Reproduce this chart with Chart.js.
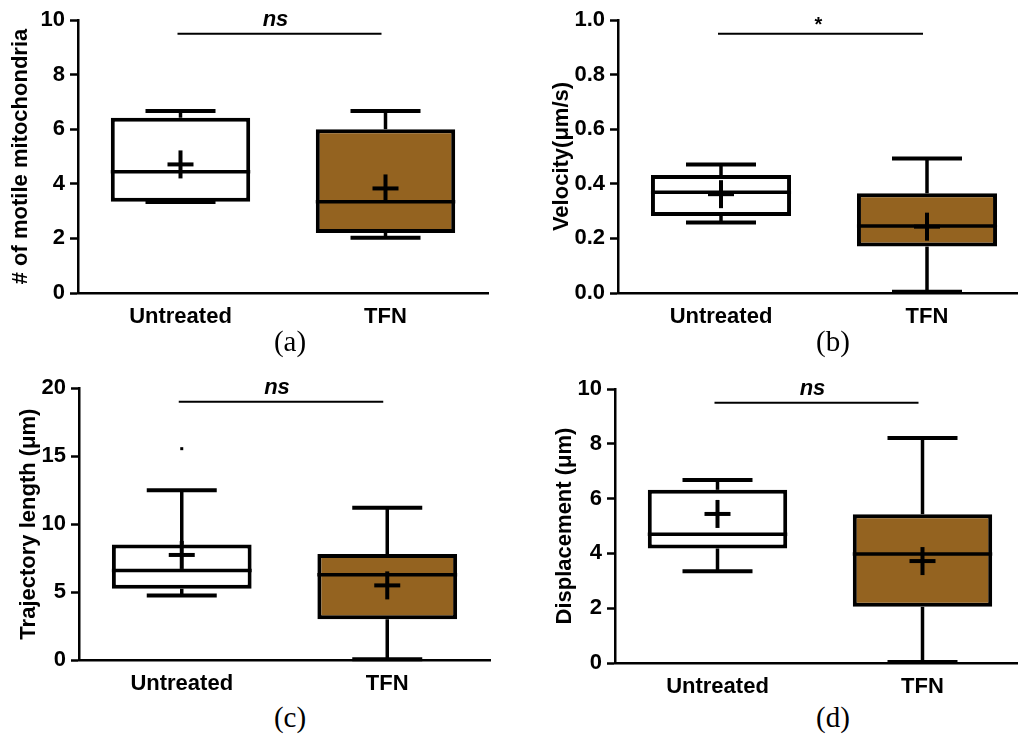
<!DOCTYPE html>
<html>
<head>
<meta charset="utf-8">
<script src="https://cdn.jsdelivr.net/npm/chart.js@4.4.1/dist/chart.umd.min.js"></script>
<style>
  html, body { margin: 0; padding: 0; background: #fff; overflow: hidden; }
  body { width: 1018px; height: 734px; position: relative; }
  canvas { position: absolute; }
  .tag { position: absolute; width: 100px; text-align: center; font: 29px "Liberation Serif", "Times New Roman", serif; line-height: 30px; color: #000; }
</style>
</head>
<body>
<canvas id="chartA" width="500" height="330" style="left:0px;top:0px"></canvas>
<canvas id="chartB" width="530" height="330" style="left:500px;top:0px"></canvas>
<canvas id="chartC" width="500" height="330" style="left:0px;top:370px"></canvas>
<canvas id="chartD" width="525" height="330" style="left:500px;top:370px"></canvas>
<div class="tag" style="left:240px;top:326px">(a)</div>
<div class="tag" style="left:783px;top:326px">(b)</div>
<div class="tag" style="left:240px;top:702px">(c)</div>
<div class="tag" style="left:783px;top:702px">(d)</div>
<script>
const groups = ['Untreated', 'TFN'];
const boxColors = ['#ffffff', '#946320'];

// (a) # of motile mitochondria
const aMin  = [3.33, 2.02];
const aQ1   = [3.34, 2.20];
const aMed  = [4.44, 3.34];
const aQ3   = [6.42, 6.00];
const aMax  = [6.67, 6.67];
const aMean = [4.71, 3.83];

// (b) velocity
const bMin  = [0.258, 0.005];
const bQ1   = [0.282, 0.170];
const bMed  = [0.369, 0.245];
const bQ3   = [0.432, 0.365];
const bMax  = [0.471, 0.493];
const bMean = [0.362, 0.243];

// (c) trajectory length
const cMin  = [4.75, 0.05];
const cQ1   = [5.24, 3.00];
const cMed  = [6.58, 6.27];
const cQ3   = [8.49, 7.80];
const cMax  = [12.5, 11.2];
const cMean = [7.73, 5.49];
const cOutliers = [[15.55], []];

// (d) displacement
const dMin  = [3.35, 0.04];
const dQ1   = [4.18, 2.05];
const dMed  = [4.70, 3.98];
const dQ3   = [6.32, 5.43];
const dMax  = [6.68, 8.21];
const dMean = [5.44, 3.72];

const FONT = 'Arial, "Liberation Sans", sans-serif';

// whiskers, median, mean cross, outliers and the significance bar
const boxExtras = {
  id: 'boxExtras',
  afterDatasetsDraw(chart, args, opts) {
    const ctx = chart.ctx;
    const xs = chart.scales.x, ys = chart.scales.y;
    const meta = chart.getDatasetMeta(0);
    ctx.save();
    ctx.strokeStyle = '#000';
    ctx.fillStyle = '#000';
    ctx.lineCap = 'butt';
    groups.forEach(function(g, i) {
      const x = xs.getPixelForValue(i);
      const w = meta.data[i].width;
      const line = function(x1, y1, x2, y2, lw) {
        ctx.lineWidth = lw;
        ctx.beginPath(); ctx.moveTo(x1, y1); ctx.lineTo(x2, y2); ctx.stroke();
      };
      const yMax = ys.getPixelForValue(opts.max[i]);
      const yMin = ys.getPixelForValue(opts.min[i]);
      const yQ1 = ys.getPixelForValue(opts.q1[i]);
      const yQ3 = ys.getPixelForValue(opts.q3[i]);
      line(x, yQ3, x, yMax, 3.5);
      line(x, yQ1, x, yMin, 3.5);
      line(x - 35, yMax, x + 35, yMax, 4);
      line(x - 35, yMin, x + 35, yMin, 4);
      const yMed = ys.getPixelForValue(opts.med[i]);
      line(x - w / 2, yMed, x + w / 2, yMed, 3.5);
      const yMean = ys.getPixelForValue(opts.mean[i]);
      line(x - 13, yMean, x + 13, yMean, 4);
      line(x, yMean - 14, x, yMean + 14, 4);
      (opts.outliers ? opts.outliers[i] : []).forEach(function(v) {
        ctx.fillRect(x - 1.5, ys.getPixelForValue(v) - 1.5, 3, 3);
      });
    });
    // significance bar
    const sy = ys.getPixelForValue(opts.sigY);
    const x0 = xs.getPixelForValue(0) - 3, x1 = xs.getPixelForValue(1) - 4;
    ctx.lineWidth = 2;
    ctx.beginPath(); ctx.moveTo(x0, sy); ctx.lineTo(x1, sy); ctx.stroke();
    ctx.textAlign = 'center';
    ctx.textBaseline = 'alphabetic';
    if (opts.sigText === '*') {
      ctx.font = 'bold 20px ' + FONT;
      ctx.fillText('*', (x0 + x1) / 2 - 2, sy - 3);
    } else {
      ctx.font = 'italic bold 22px ' + FONT;
      ctx.fillText(opts.sigText, (x0 + x1) / 2 - 4, sy - 8);
    }
    ctx.restore();
  }
};

function makePanel(id, p) {
  return new Chart(document.getElementById(id), {
    type: 'bar',
    data: {
      labels: groups,
      datasets: [{
        data: groups.map(function(g, i) { return [p.q1[i], p.q3[i]]; }),
        backgroundColor: boxColors,
        borderColor: '#000',
        borderWidth: 4,
        borderSkipped: false,
        barPercentage: 0.68,
        categoryPercentage: 1
      }]
    },
    options: {
      responsive: false,
      animation: false,
      devicePixelRatio: 1,
      layout: { padding: p.pad },
      plugins: {
        legend: { display: false },
        tooltip: { enabled: false },
        boxExtras: p
      },
      scales: {
        x: {
          grid: { display: false, drawTicks: false },
          border: { color: '#000', width: 2.5 },
          ticks: { color: '#000', padding: 11, font: { family: FONT, size: 22, weight: 'bold' } },
          afterFit: function(s) { s.height = p.xh; }
        },
        y: {
          min: 0,
          max: p.yMax,
          grid: { drawOnChartArea: false, drawTicks: true, tickLength: 8, tickWidth: 2.5, color: '#000' },
          border: { color: '#000', width: 2.5 },
          ticks: {
            stepSize: p.step,
            color: '#000',
            padding: 5,
            font: { family: FONT, size: 22, weight: 'bold' },
            callback: function(v) { return p.dec ? v.toFixed(p.dec) : v; }
          },
          title: {
            display: true,
            text: p.title,
            color: '#000',
            padding: { top: 2, bottom: 0 },
            font: { family: FONT, size: 22, weight: 'bold' }
          },
          afterFit: function(s) { s.width = p.yw; }
        }
      }
    },
    plugins: [boxExtras]
  });
}

makePanel('chartA', {
  min: aMin, q1: aQ1, med: aMed, q3: aQ3, max: aMax, mean: aMean,
  yMax: 10, step: 2, dec: 0, title: '# of motile mitochondria',
  sigY: 9.5, sigText: 'ns',
  pad: { left: 6, top: 20, right: 12, bottom: 0 }, yw: 72, xh: 37
});
makePanel('chartB', {
  min: bMin, q1: bQ1, med: bMed, q3: bQ3, max: bMax, mean: bMean,
  yMax: 1.0, step: 0.2, dec: 1, title: 'Velocity(\u03bcm/s)',
  sigY: 0.95, sigText: '*',
  pad: { left: 47, top: 20, right: 0, bottom: 0 }, yw: 71, xh: 37
});
makePanel('chartC', {
  min: cMin, q1: cQ1, med: cMed, q3: cQ3, max: cMax, mean: cMean, outliers: cOutliers,
  yMax: 20, step: 5, dec: 0, title: 'Trajectory length (\u03bcm)',
  sigY: 19, sigText: 'ns',
  pad: { left: 14, top: 17, right: 10, bottom: 0 }, yw: 65, xh: 40
});
makePanel('chartD', {
  min: dMin, q1: dQ1, med: dMed, q3: dQ3, max: dMax, mean: dMean,
  yMax: 10, step: 2, dec: 0, title: 'Displacement (\u03bcm)',
  sigY: 9.5, sigText: 'ns',
  pad: { left: 50, top: 19, right: 0, bottom: 0 }, yw: 65, xh: 37
});
</script>
</body>
</html>
